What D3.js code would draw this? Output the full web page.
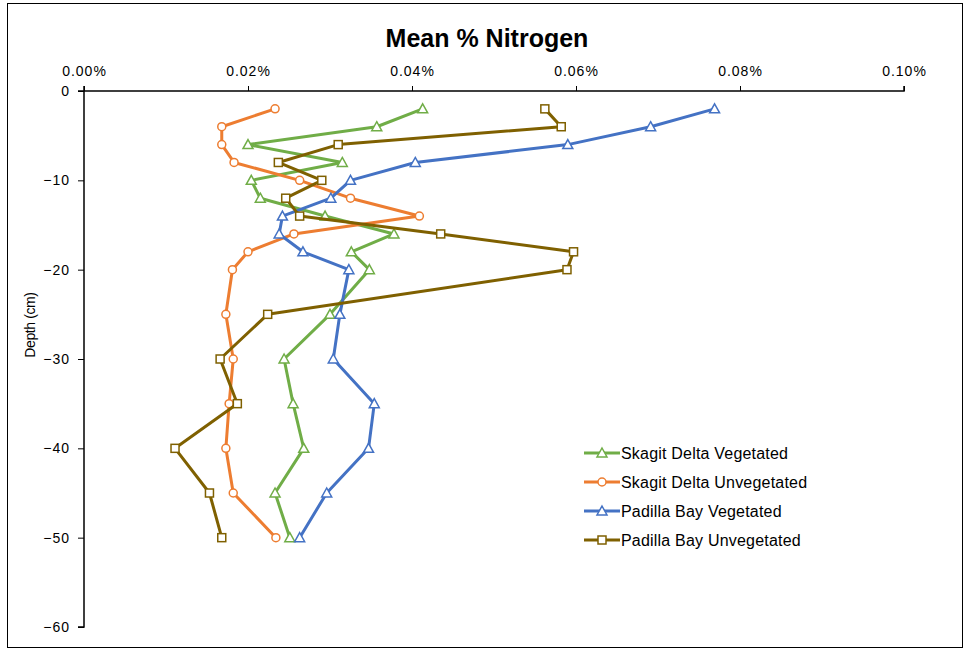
<!DOCTYPE html>
<html><head><meta charset="utf-8">
<script src="https://cdn.jsdelivr.net/npm/d3@7"></script>
<style>body{margin:0;background:#fff;} svg{display:block;font-family:"Liberation Sans",Arial,sans-serif;}</style>
</head><body>
<svg id="c" width="969" height="651"></svg>
<script>
const depths = [-2,-4,-6,-8,-10,-12,-14,-16,-18,-20,-25,-30,-35,-40,-45,-50];
const skagitVeg = [0.0413,0.0357,0.0200,0.0315,0.0204,0.0215,0.0294,0.0378,0.0326,0.0348,0.0300,0.0244,0.0255,0.0268,0.0233,0.0251];
const skagitUnveg = [0.0233,0.0168,0.0168,0.0183,0.0263,0.0325,0.0409,0.0256,0.0200,0.0181,0.0173,0.0182,0.0177,0.0173,0.0182,0.0234];
const padillaVeg = [0.0769,0.0691,0.0590,0.0404,0.0325,0.0301,0.0242,0.0238,0.0267,0.0323,0.0312,0.0304,0.0354,0.0347,0.0296,0.0263];
const padillaUnveg = [0.0562,0.0582,0.0310,0.0237,0.0290,0.0246,0.0263,0.0435,0.0597,0.0589,0.0224,0.0166,0.0187,0.0111,0.0153,0.0168];
const seriesNames = ["Skagit Delta Vegetated","Skagit Delta Unvegetated","Padilla Bay Vegetated","Padilla Bay Unvegetated"];
const seriesColors = ["#70AD47","#ED7D31","#4472C4","#7F6000"];
const seriesMarkers = ["triangle","circle","triangle","square"];
const xTicks = [0,0.02,0.04,0.06,0.08,0.10];
const yTicks = [0,-10,-20,-30,-40,-50,-60];
const title = "Mean % Nitrogen";
const yLabel = "Depth (cm)";

const svg = d3.select("#c");
svg.append("rect").attr("x",7.5).attr("y",3.5).attr("width",955).attr("height",644)
  .attr("fill","#fff").attr("stroke","#000").attr("stroke-width",1);

const x = d3.scaleLinear().domain([0,0.10]).range([84,904]);
const y = d3.scaleLinear().domain([0,-60]).range([91,627]);

svg.append("text").attr("x",487).attr("y",47).attr("text-anchor","middle")
  .attr("font-size",25).attr("font-weight","bold").text(title);

const xAxis = svg.append("g").attr("transform","translate(0,91)")
  .call(d3.axisTop(x).tickValues(xTicks).tickSize(5).tickPadding(10).tickFormat(d=>d.toFixed(2)+"%"));
xAxis.select(".domain").attr("stroke","#000").attr("stroke-width",1.5).attr("d","M84,-5V0H904V-5");
xAxis.selectAll("text").attr("font-size",14).attr("letter-spacing",1).attr("fill","#000").attr("font-family","Liberation Sans, Arial, sans-serif");
xAxis.selectAll("line").attr("stroke","#000");

const yAxis = svg.append("g").attr("transform","translate(84,0)")
  .call(d3.axisLeft(y).tickValues(yTicks).tickSize(6).tickPadding(8).tickFormat(d3.format("d")));
yAxis.select(".domain").attr("stroke","#000").attr("stroke-width",1.5).attr("d","M-6,91H0V627H-6");
yAxis.selectAll("text").attr("font-size",14).attr("letter-spacing",1).attr("fill","#000").attr("font-family","Liberation Sans, Arial, sans-serif");
yAxis.selectAll("line").attr("stroke","#000");

svg.append("text").attr("transform","translate(35,325) rotate(-90)").attr("text-anchor","middle")
  .attr("font-size",14).attr("letter-spacing",-0.4).text(yLabel);

const allSeries = [skagitVeg, skagitUnveg, padillaVeg, padillaUnveg];
const line = d3.line().x(d=>x(d[0])).y(d=>y(d[1]));

function drawMarker(g, type, cx, cy, color){
  if(type==="triangle"){
    g.append("path").attr("d",`M${cx},${cy-5}L${cx+5},${cy+4}L${cx-5},${cy+4}Z`)
      .attr("fill","#fff").attr("stroke",color).attr("stroke-width",1.5);
  } else if(type==="circle"){
    g.append("circle").attr("cx",cx).attr("cy",cy).attr("r",4)
      .attr("fill","#fff").attr("stroke",color).attr("stroke-width",1.5);
  } else {
    g.append("rect").attr("x",cx-4).attr("y",cy-4).attr("width",8).attr("height",8)
      .attr("fill","#fff").attr("stroke",color).attr("stroke-width",1.5);
  }
}

allSeries.forEach((vals,i)=>{
  const pts = vals.map((v,j)=>[v,depths[j]]);
  const g = svg.append("g");
  g.append("path").attr("d",line(pts)).attr("fill","none").attr("stroke",seriesColors[i])
    .attr("stroke-width",3).attr("stroke-linejoin","round");
  pts.forEach(p=>drawMarker(g, seriesMarkers[i], x(p[0]), y(p[1]), seriesColors[i]));
});

const leg = svg.append("g");
seriesNames.forEach((n,i)=>{
  const yy = 453 + i*29;
  leg.append("line").attr("x1",584).attr("x2",620).attr("y1",yy).attr("y2",yy)
    .attr("stroke",seriesColors[i]).attr("stroke-width",3);
  drawMarker(leg, seriesMarkers[i], 602, yy, seriesColors[i]);
  leg.append("text").attr("x",621).attr("y",yy+6).attr("font-size",16).attr("letter-spacing",0.2).text(n);
});
</script>
</body></html>
